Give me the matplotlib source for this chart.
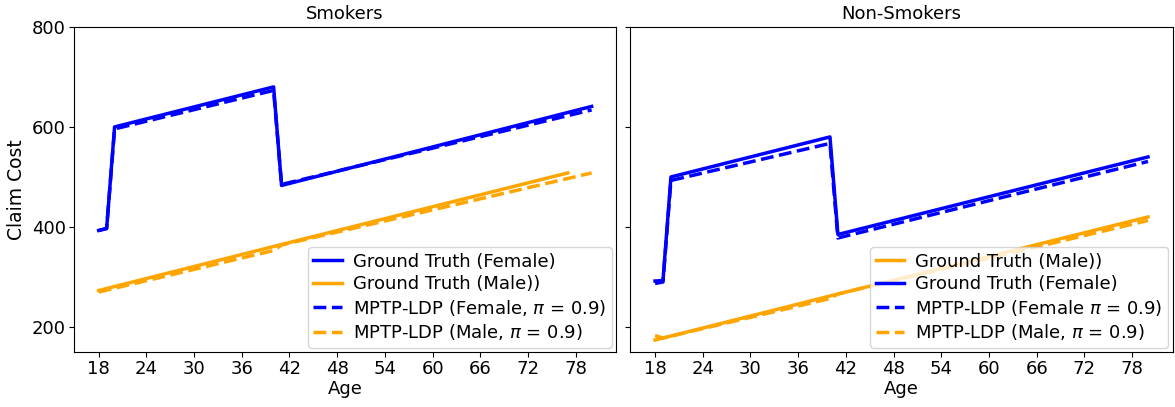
import matplotlib.pyplot as plt

# Smokers: ages at the bend points of each curve and the claim cost there
smk_f_age = [18, 19, 20, 40, 41, 80]
smk_f_true = [393, 397, 600, 680, 483, 641]
smk_f_ldp = [393, 397, 596, 673, 485, 634]

smk_m_true_age = [18, 40, 41, 77]
smk_m_true = [273, 361, 365, 508]
smk_m_ldp_age = [18, 40, 41, 80]
smk_m_ldp = [270, 353, 364, 508]

# Non-smokers
non_f_age = [18, 19, 20, 40, 41, 80]
non_f_true = [292, 293, 500, 580, 385, 540]
non_f_ldp = [287, 290, 493, 567, 378, 531]

non_m_age = [18, 19, 40, 41, 80]
non_m_true = [174, 178, 262, 266, 420]
non_m_ldp = [183, 178, 257, 266, 413]

age_ticks = list(range(18, 80, 6))
cost_ticks = [200, 400, 600, 800]

fig, (ax1, ax2) = plt.subplots(1, 2, figsize=(11.75, 4.07), dpi=100, sharey=True)
fig.subplots_adjust(left=0.063, right=0.998, top=0.934, bottom=0.135, wspace=0.026)

lw = 2.5

ax1.plot(smk_f_age, smk_f_true, color='blue', lw=lw, label='Ground Truth (Female)')
ax1.plot(smk_m_true_age, smk_m_true, color='orange', lw=lw, label='Ground Truth (Male))')
ax1.plot(smk_f_age, smk_f_ldp, color='blue', lw=lw, ls='--', label=r'MPTP-LDP (Female, $\pi$ = 0.9)')
ax1.plot(smk_m_ldp_age, smk_m_ldp, color='orange', lw=lw, ls='--', label=r'MPTP-LDP (Male, $\pi$ = 0.9)')
ax1.set_title('Smokers', fontsize=13)
ax1.set_ylabel('Claim Cost', fontsize=13.5)

ax2.plot(non_m_age, non_m_true, color='orange', lw=lw, label='Ground Truth (Male))')
ax2.plot(non_f_age, non_f_true, color='blue', lw=lw, label='Ground Truth (Female)')
ax2.plot(non_f_age, non_f_ldp, color='blue', lw=lw, ls='--', label=r'MPTP-LDP (Female $\pi$ = 0.9)')
ax2.plot(non_m_age, non_m_ldp, color='orange', lw=lw, ls='--', label=r'MPTP-LDP (Male, $\pi$ = 0.9)')
ax2.set_title('Non-Smokers', fontsize=13)

for ax in (ax1, ax2):
    ax.set_xlabel('Age', fontsize=13, labelpad=1)
    ax.set_xticks(age_ticks)
    ax.set_yticks(cost_ticks)
    ax.set_ylim(150, 800)
    ax.tick_params(labelsize=13, pad=2.5)
    ax.legend(loc='lower right', fontsize=13, handlelength=1.6,
              borderpad=0.3, labelspacing=0.25, handletextpad=0.6,
              borderaxespad=0.25)

plt.savefig('out.png')
